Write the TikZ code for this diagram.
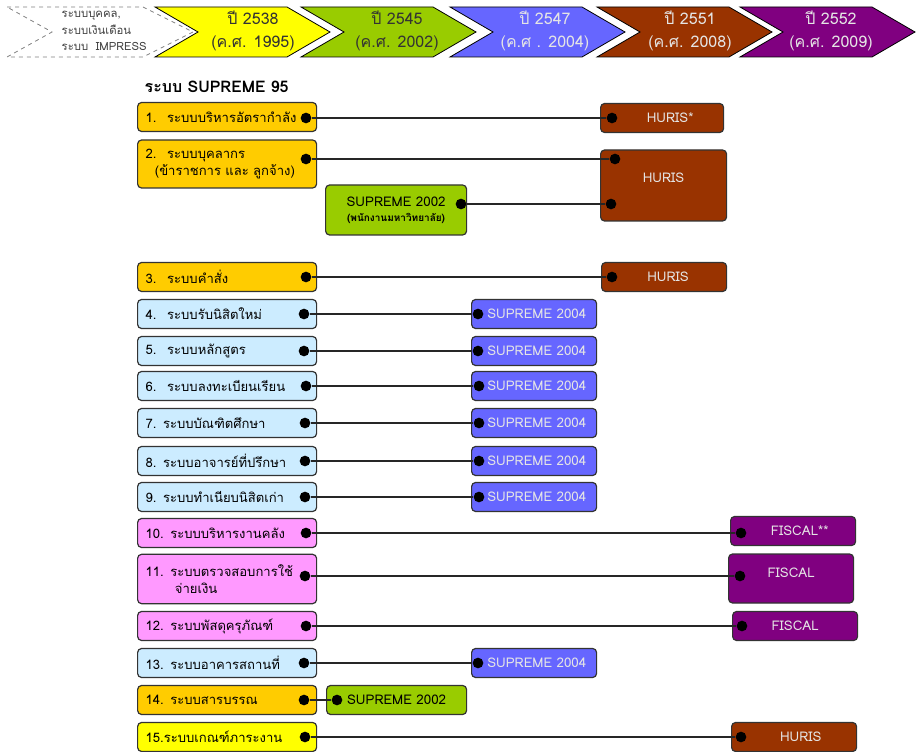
\documentclass[tikz,border=0pt]{standalone}
\usepackage{fontspec}
\setmainfont[Script=Thai]{Loma}
\usetikzlibrary{positioning}

\definecolor{gold}{HTML}{FFCC00}
\definecolor{lemon}{HTML}{FFFF00}
\definecolor{lime}{HTML}{99CC00}
\definecolor{violet}{HTML}{6666FF}
\definecolor{rust}{HTML}{993300}
\definecolor{plum}{HTML}{800080}
\definecolor{sky}{HTML}{CCECFF}
\definecolor{rose}{HTML}{FF99FF}

\tikzset{
  sysbox/.style={draw=black!80, line width=0.9pt, rounded corners=3pt, anchor=west,
    minimum width=134.25pt, minimum height=21.75pt, inner xsep=6pt, text width=122.25pt,
    align=left, font=\fontsize{9.8}{13}\selectfont},
  newbox/.style={draw=black!80, line width=0.9pt, rounded corners=3pt, anchor=west,
    minimum width=93.75pt, minimum height=21.75pt, align=center,
    font=\fontsize{10}{13}\selectfont},
  dot/.style={circle, fill=black, inner sep=0pt, minimum size=8pt},
  link/.style={line width=1.3pt, black!85},
  yeartext/.style={align=center, font=\fontsize{12}{17}\selectfont}
}

\begin{document}
\begin{tikzpicture}[x=0.75pt,y=-0.75pt]
  \useasboundingbox (0,0) rectangle (922,752);

  % time line
  \draw[gray, dashed, line width=0.6pt] (7,7) -- (143,7) -- (193,32) -- (143,57) -- (7,57) -- (52,32) -- cycle;
  \foreach \x/\c in {155/lemon, 301/lime, 450/violet, 597/rust, 740/plum}
    \draw[fill=\c, line width=0.6pt] (\x,7) -- ++(132,0) -- ++(43,25) -- ++(-43,25) -- ++(-132,0) -- ++(43,-25) -- cycle;
  \node[align=left, anchor=west, text=black!75, font=\fontsize{8.5}{12.3}\selectfont] (old) at (57,31)
    {ระบบบุคคล,\\ระบบเงินเดือน\\ระบบ\ \ IMPRESS};
  \node[yeartext, text=black!80] (y2538) at (253,31) {ปี 2538\\(ค.ศ. 1995)};
  \node[yeartext, text=black!80] (y2545) at (397,31) {ปี 2545\\(ค.ศ. 2002)};
  \node[yeartext, text=white!90!black] (y2547) at (545,31) {ปี 2547\\(ค.ศ . 2004)};
  \node[yeartext, text=white!90!black] (y2551) at (690,31) {ปี 2551\\(ค.ศ. 2008)};
  \node[yeartext, text=white!90!black] (y2552) at (831,31) {ปี 2552\\(ค.ศ. 2009)};

  \node[anchor=west, font=\bfseries\fontsize{12}{14}\selectfont] (title) at (140,87) {ระบบ SUPREME 95};

  % SUPREME 95 systems
  \node[sysbox, fill=gold] (s1) at (137,117) {1.\hspace{8pt}ระบบบริหารอัตรากำลัง};
  \node[sysbox, fill=gold, minimum height=36pt] (s2) at (137,164) {2.\hspace{8pt}ระบบบุคลากร\\\hspace*{7pt}(ข้าราชการ และ ลูกจ้าง)};
  \node[sysbox, fill=gold] (s3) at (137,277) {3.\hspace{8pt}ระบบคำสั่ง};
  \node[sysbox, fill=sky] (s4) at (137,314) {4.\hspace{8pt}ระบบรับนิสิตใหม่};
  \node[sysbox, fill=sky] (s5) at (137,351) {5.\hspace{8pt}ระบบหลักสูตร};
  \node[sysbox, fill=sky] (s6) at (137,386) {6.\hspace{8pt}ระบบลงทะเบียนเรียน};
  \node[sysbox, fill=sky] (s7) at (137,423) {7. ระบบบัณฑิตศึกษา};
  \node[sysbox, fill=sky] (s8) at (137,461) {8. ระบบอาจารย์ที่ปรึกษา};
  \node[sysbox, fill=sky] (s9) at (137,497) {9. ระบบทำเนียบนิสิตเก่า};
  \node[sysbox, fill=rose] (s10) at (137,533) {10. ระบบบริหารงานคลัง};
  \node[sysbox, fill=rose, minimum height=37pt] (s11) at (137,579) {11. ระบบตรวจสอบการใช้\\\hspace*{22pt}จ่ายเงิน};
  \node[sysbox, fill=rose] (s12) at (137,626) {12. ระบบพัสดุครุภัณฑ์};
  \node[sysbox, fill=sky] (s13) at (137,663) {13. ระบบอาคารสถานที่};
  \node[sysbox, fill=gold] (s14) at (137,700) {14. ระบบสารบรรณ};
  \node[sysbox, fill=lemon] (s15) at (137,737) {15.ระบบเกณฑ์ภาระงาน};

  % new systems
  \node[newbox, fill=lime, minimum width=105.75pt, minimum height=37.5pt] (p02) at (325,210)
    {SUPREME 2002\\[-2pt]{\fontsize{7.5}{9}\selectfont\bfseries (พนักงานมหาวิทยาลัย)}};
  \node[newbox, fill=rust, text=white!90!black, minimum width=92.25pt] (h1) at (600,118) {\hspace{12pt}HURIS*};
  \node[newbox, fill=rust, text=white!90!black, minimum width=94.5pt, minimum height=53.25pt, text depth=11pt] (h2) at (600,185.5) {HURIS};
  \node[newbox, fill=rust, text=white!90!black] (h3) at (601,277) {\hspace{6pt}HURIS};
  \node[newbox, fill=violet, text=white!90!black] (n4) at (471,314) {\hspace{4pt}SUPREME 2004};
  \node[newbox, fill=violet, text=white!90!black] (n5) at (471,351) {\hspace{4pt}SUPREME 2004};
  \node[newbox, fill=violet, text=white!90!black] (n6) at (471,386) {\hspace{4pt}SUPREME 2004};
  \node[newbox, fill=violet, text=white!90!black] (n7) at (471,423) {\hspace{4pt}SUPREME 2004};
  \node[newbox, fill=violet, text=white!90!black] (n8) at (471,461) {\hspace{4pt}SUPREME 2004};
  \node[newbox, fill=violet, text=white!90!black] (n9) at (471,497) {\hspace{4pt}SUPREME 2004};
  \node[newbox, fill=plum, text=white!90!black] (f10) at (730,531) {\hspace{10pt}FISCAL**};
  \node[newbox, fill=plum, text=white!90!black, minimum height=36.75pt, text depth=9pt] (f11) at (728,578.5) {FISCAL};
  \node[newbox, fill=plum, text=white!90!black] (f12) at (732,626) {FISCAL};
  \node[newbox, fill=violet, text=white!90!black] (n13) at (471,663) {\hspace{4pt}SUPREME 2004};
  \node[newbox, fill=lime, minimum width=105pt] (p14) at (326,700) {SUPREME 2002};
  \node[newbox, fill=rust, text=white!90!black] (h15) at (731,737) {\hspace{10pt}HURIS};

  % end points
  \node[dot] (a1) at (306,118) {};
  \node[dot] (a2) at (306,159) {};
  \node[dot] (a3) at (306,277) {};
  \node[dot] (a4) at (304,314) {};
  \node[dot] (a5) at (304,351) {};
  \node[dot] (a6) at (306,386) {};
  \node[dot] (a7) at (305,423) {};
  \node[dot] (a8) at (305,461) {};
  \node[dot] (a9) at (305,497) {};
  \node[dot] (a10) at (306,533) {};
  \node[dot] (a11) at (305,576) {};
  \node[dot] (a12) at (306,626) {};
  \node[dot] (a13) at (304,663) {};
  \node[dot] (a14) at (304,700) {};
  \node[dot] (a15) at (305,737) {};
  \node[dot] (b2) at (461,204) {};
  \node[dot] (c1) at (612,118) {};
  \node[dot] (c2) at (615,159) {};
  \node[dot] (c3) at (611,204) {};
  \node[dot] (c4) at (612,277) {};
  \node[dot] (c5) at (478,314) {};
  \node[dot] (c6) at (478,351) {};
  \node[dot] (c7) at (479,386) {};
  \node[dot] (c8) at (479,423) {};
  \node[dot] (c9) at (479,461) {};
  \node[dot] (c10) at (479,497) {};
  \node[dot] (c11) at (741,533) {};
  \node[dot] (c12) at (740,576) {};
  \node[dot] (c13) at (742,626) {};
  \node[dot] (c14) at (478,663) {};
  \node[dot] (c15) at (337,700) {};
  \node[dot] (c16) at (741,737) {};

  \begin{scope}[link]
    \draw (a1) -- (c1);
    \draw (a2) -- (c2);
    \draw (b2) -- (c3);
    \draw (a3) -- (c4);
    \draw (a4) -- (c5);
    \draw (a5) -- (c6);
    \draw (a6) -- (c7);
    \draw (a7) -- (c8);
    \draw (a8) -- (c9);
    \draw (a9) -- (c10);
    \draw (a10) -- (c11);
    \draw (a11) -- (c12);
    \draw (a12) -- (c13);
    \draw (a13) -- (c14);
    \draw (a14) -- (c15);
    \draw (a15) -- (c16);
  \end{scope}
\end{tikzpicture}
\end{document}
